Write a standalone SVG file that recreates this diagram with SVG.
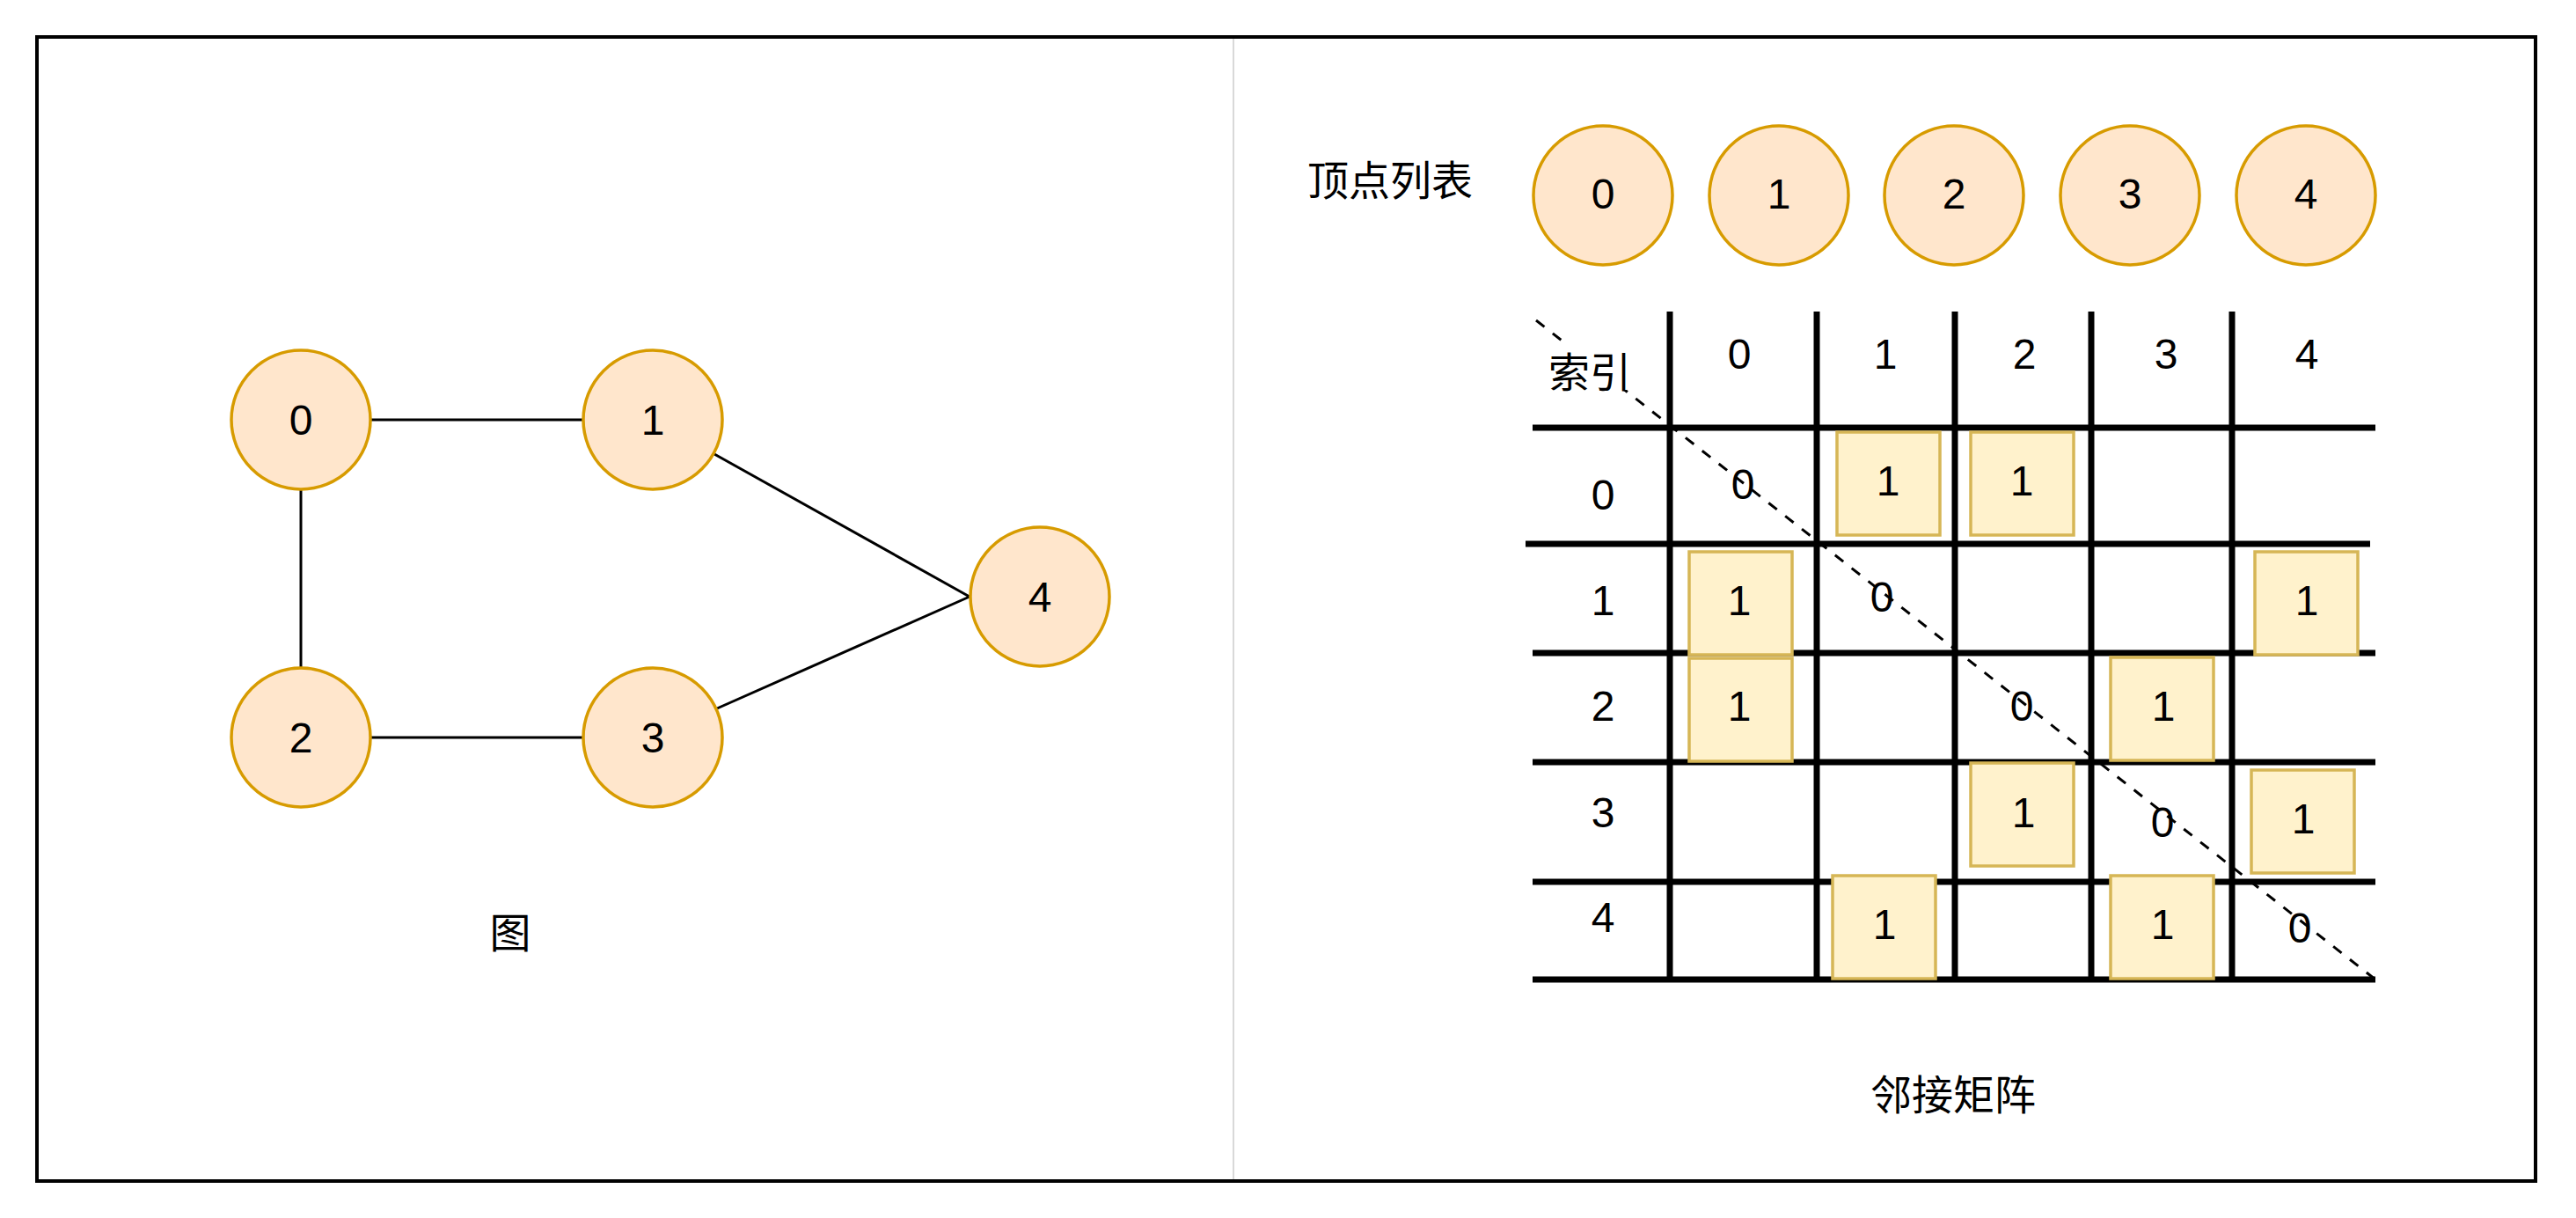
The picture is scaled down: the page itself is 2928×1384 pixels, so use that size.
<svg xmlns="http://www.w3.org/2000/svg" width="2928" height="1384" viewBox="0 0 2928 1384">
<style>
  .t { font-family: "Liberation Sans", Arial, "Noto Sans CJK SC", sans-serif; font-size: 48px; fill: #000; text-anchor: middle; dominant-baseline: central; }
  .cjk { font-family: "Noto Sans CJK SC", "Liberation Sans", sans-serif; font-size: 47px; fill: #000; text-anchor: middle; dominant-baseline: central; }
  .node { fill: #ffe6cc; stroke: #d79b00; stroke-width: 3.5; }
  .cell { fill: #fff2cc; stroke: #d6b656; stroke-width: 3.5; }
  .edge { stroke: #000; stroke-width: 3; fill: none; }
  .grid { stroke: #000; stroke-width: 7; fill: none; }
  .diag { stroke: #000; stroke-width: 3; stroke-dasharray: 12 12; fill: none; }
</style>
<rect x="0" y="0" width="2928" height="1384" fill="#fff"/>
<rect id="frame" x="42" y="42" width="2840" height="1300" fill="#fff" stroke="#000" stroke-width="4"/>
<line id="divider" x1="1402" y1="44" x2="1402" y2="1340" stroke="#cccccc" stroke-width="1.5"/>

<!-- Left graph connectors -->
<g id="connectors">
  <line class="edge" x1="421" y1="477" x2="663" y2="477"/>
  <line class="edge" x1="342" y1="556" x2="342" y2="759"/>
  <line class="edge" x1="421" y1="838" x2="663" y2="838"/>
  <line class="edge" x1="812" y1="516" x2="1102" y2="678"/>
  <line class="edge" x1="815" y1="805" x2="1102" y2="678"/>
</g>

<g id="g-node-0"><circle class="node" cx="342" cy="477" r="79"/><text class="t" x="342" y="477">0</text></g>
<g id="g-node-1"><circle class="node" cx="742" cy="477" r="79"/><text class="t" x="742" y="477">1</text></g>
<g id="g-node-2"><circle class="node" cx="342" cy="838" r="79"/><text class="t" x="342" y="838">2</text></g>
<g id="g-node-3"><circle class="node" cx="742" cy="838" r="79"/><text class="t" x="742" y="838">3</text></g>
<g id="g-node-4"><circle class="node" cx="1182" cy="678" r="79"/><text class="t" x="1182" y="678">4</text></g>
<g id="label-graph"><text class="cjk" x="580" y="1056">图</text></g>

<!-- Vertex list -->
<g id="label-vertex-list"><text class="cjk" x="1580" y="201">顶点列表</text></g>
<g id="v-0"><circle class="node" cx="1822" cy="222" r="79"/><text class="t" x="1822" y="220">0</text></g>
<g id="v-1"><circle class="node" cx="2022" cy="222" r="79"/><text class="t" x="2022" y="220">1</text></g>
<g id="v-2"><circle class="node" cx="2221" cy="222" r="79"/><text class="t" x="2221" y="220">2</text></g>
<g id="v-3"><circle class="node" cx="2421" cy="222" r="79"/><text class="t" x="2421" y="220">3</text></g>
<g id="v-4"><circle class="node" cx="2621" cy="222" r="79"/><text class="t" x="2621" y="220">4</text></g>

<!-- Matrix grid -->
<g id="matrix-grid">
  <line class="grid" x1="1898" y1="354" x2="1898" y2="1116"/>
  <line class="grid" x1="2065" y1="354" x2="2065" y2="1116"/>
  <line class="grid" x1="2222" y1="354" x2="2222" y2="1116"/>
  <line class="grid" x1="2377" y1="354" x2="2377" y2="1116"/>
  <line class="grid" x1="2537" y1="354" x2="2537" y2="1116"/>
  <line class="grid" x1="1742" y1="486" x2="2700" y2="486"/>
  <line class="grid" x1="1734" y1="618" x2="2694" y2="618"/>
  <line class="grid" x1="1742" y1="742" x2="2700" y2="742"/>
  <line class="grid" x1="1742" y1="866" x2="2700" y2="866"/>
  <line class="grid" x1="1742" y1="1002" x2="2700" y2="1002"/>
  <line class="grid" x1="1742" y1="1113" x2="2700" y2="1113"/>
</g>

<g id="matrix-diagonal"><line class="diag" x1="1746" y1="364" x2="2700" y2="1113"/></g>

<g id="label-index"><rect x="1756" y="392" width="102" height="51" fill="#fff"/><text class="cjk" x="1807" y="419">索引</text></g>

<g id="col-headers">
  <text class="t" x="1977" y="402">0</text>
  <text class="t" x="2143" y="402">1</text>
  <text class="t" x="2301" y="402">2</text>
  <text class="t" x="2462" y="402">3</text>
  <text class="t" x="2622" y="402">4</text>
</g>
<g id="row-headers">
  <text class="t" x="1822" y="562">0</text>
  <text class="t" x="1822" y="682">1</text>
  <text class="t" x="1822" y="802">2</text>
  <text class="t" x="1822" y="923">3</text>
  <text class="t" x="1822" y="1042">4</text>
</g>

<g id="diag-zeros">
  <text class="t" x="1981" y="550">0</text>
  <text class="t" x="2139" y="678">0</text>
  <text class="t" x="2298" y="802">0</text>
  <text class="t" x="2458" y="934">0</text>
  <text class="t" x="2614" y="1054">0</text>
</g>

<g id="cell-0-1"><rect class="cell" x="2088" y="491" width="117" height="117"/><text class="t" x="2146" y="546">1</text></g>
<g id="cell-0-2"><rect class="cell" x="2240" y="491" width="117" height="117"/><text class="t" x="2298" y="546">1</text></g>
<g id="cell-1-0"><rect class="cell" x="1920" y="627" width="117" height="117"/><text class="t" x="1977" y="682">1</text></g>
<g id="cell-1-4"><rect class="cell" x="2563" y="627" width="117" height="117"/><text class="t" x="2622" y="682">1</text></g>
<g id="cell-2-0"><rect class="cell" x="1920" y="748" width="117" height="117"/><text class="t" x="1977" y="802">1</text></g>
<g id="cell-2-3"><rect class="cell" x="2399" y="747" width="117" height="117"/><text class="t" x="2459" y="802">1</text></g>
<g id="cell-3-2"><rect class="cell" x="2240" y="867" width="117" height="117"/><text class="t" x="2300" y="923">1</text></g>
<g id="cell-3-4"><rect class="cell" x="2559" y="875" width="117" height="117"/><text class="t" x="2618" y="930">1</text></g>
<g id="cell-4-1"><rect class="cell" x="2083" y="995" width="117" height="117"/><text class="t" x="2142" y="1050">1</text></g>
<g id="cell-4-3"><rect class="cell" x="2399" y="995" width="117" height="117"/><text class="t" x="2458" y="1050">1</text></g>

<g id="label-matrix"><text class="cjk" x="2220" y="1240">邻接矩阵</text></g>
</svg>
